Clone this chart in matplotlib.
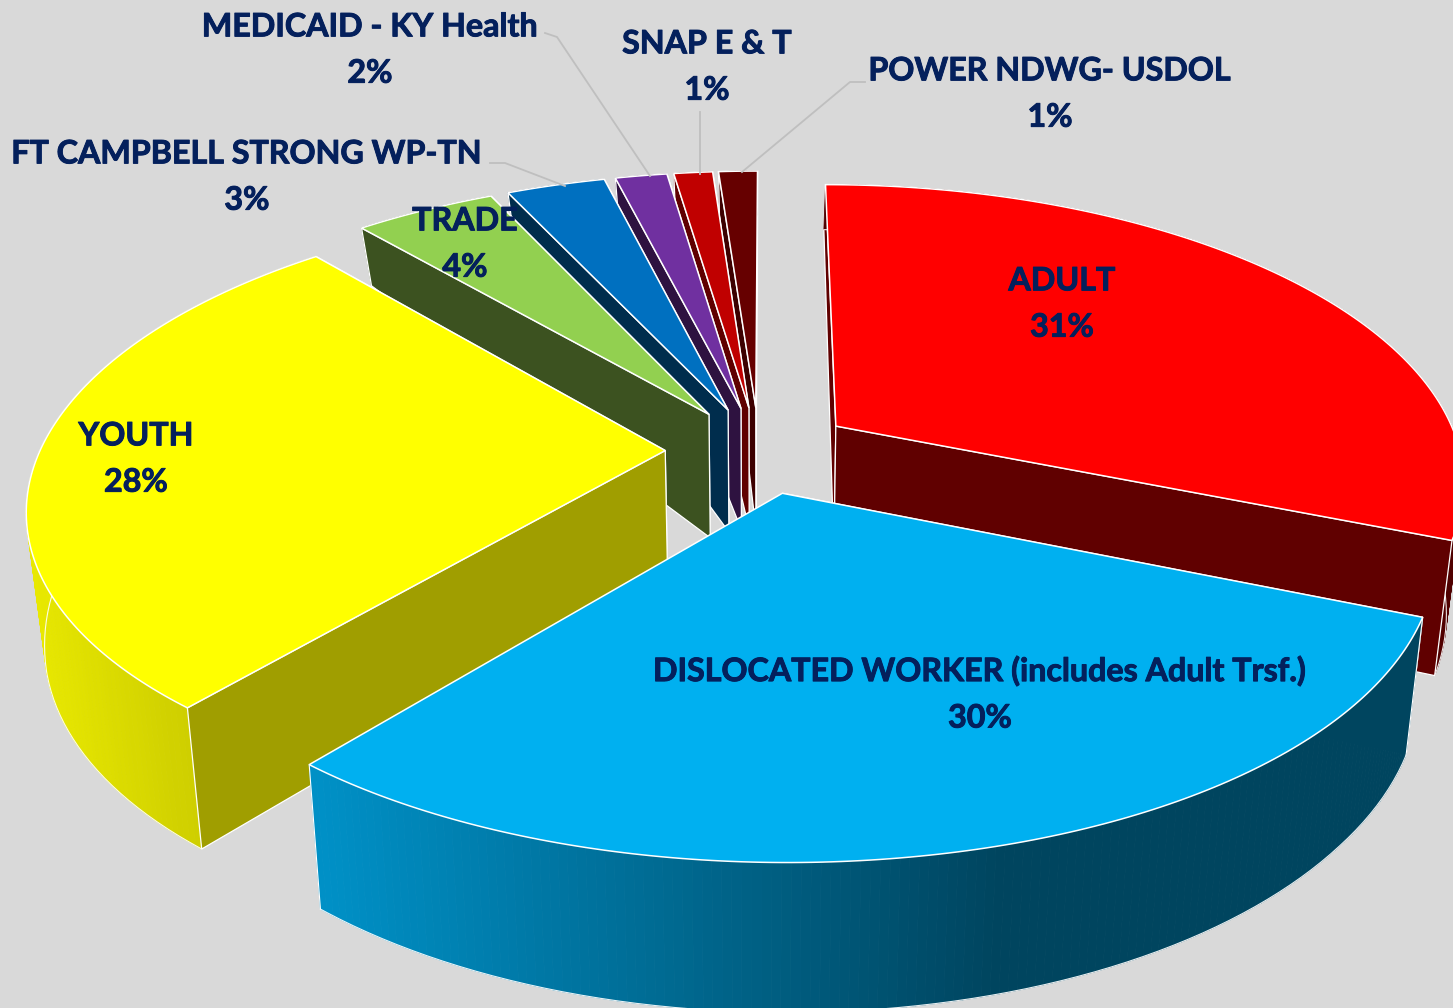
import numpy as np
import matplotlib
matplotlib.use("Agg")
import matplotlib.pyplot as plt
import matplotlib.patheffects as pe
from matplotlib.collections import PolyCollection

categories = ["ADULT", "DISLOCATED WORKER (includes Adult Trsf.)", "YOUTH", "TRADE",
              "FT CAMPBELL STRONG WP-TN", "MEDICAID - KY Health", "SNAP E & T", "POWER NDWG- USDOL"]
values = [31.2, 29.8, 27.6, 4.35, 3.05, 1.6, 1.2, 1.2]
top_colors = ["#FF0000", "#00B0F0", "#FFFF00", "#92D050", "#0070C0", "#7030A0", "#C00000", "#660000"]
side_colors = ["#600000", "#004560", "#A09E00", "#3C5220", "#002D4D", "#2E1240", "#600000", "#3D0000"]
label_pos = [(1062, 304), (980, 694), (136, 459), (465, 244), (247, 177), (370, 50), (707, 67), (1050, 94)]

BG = "#D9D9D9"
TXT = "#04205C"
CX, CY = 759.0, 450.0
F, G, AX, AY, B = 625.0, 290.0, 0.18, 0.17, 1.5
EXPLODE = 0.15

def project(X, Y):
    sx = 1.0 / (1.0 + AX * Y)
    sy = 1.0 / (1.0 + AY * Y)
    return CX + (F * X + B * np.maximum(Y, 0)) * sx, CY - G * Y * sy

def drop(x, y):
    d = np.interp(y, [186, 226, 416, 537, 705, 862], [45, 57, 124, 135, 141, 150])
    return x - (x - CX) * 0.025, y + d

def lerp_color(c0, c1, t):
    a = np.array(matplotlib.colors.to_rgb(c0))
    b = np.array(matplotlib.colors.to_rgb(c1))
    return tuple(a + (b - a) * t)

def wall_color(i, xm):
    if i == 1:
        t = np.clip((xm - 320) / (1000 - 320), 0, 1)
        return lerp_color("#0090C6", "#00455F", t)
    if i == 2:
        t = np.clip((xm - 30) / (200 - 30), 0, 1)
        return lerp_color("#E8E800", "#CCCC00", t)
    if i == 0:
        return "#500000"
    return side_colors[i]

fig = plt.figure(figsize=(14.53, 10.08), dpi=100, facecolor=BG)
ax = fig.add_axes([0, 0, 1, 1], facecolor=BG)
ax.set_xlim(0, 1453)
ax.set_ylim(1008, 0)
ax.axis("off")

fr = np.array(values, float) / sum(values)
edges = np.concatenate([[0], np.cumsum(fr)]) * 2 * np.pi
order = [7, 6, 5, 4, 3, 0, 2, 1]

for z, i in enumerate(order):
    t0, t1 = edges[i], edges[i + 1]
    tm = (t0 + t1) / 2
    ex, ey = EXPLODE * np.sin(tm), EXPLODE * np.cos(tm)
    th = np.linspace(t0, t1, max(8, int((t1 - t0) * 80)))
    ax_x, ax_y = project(ex + np.sin(th), ey + np.cos(th))
    apex = project(ex, ey)
    bx, by = drop(ax_x, ax_y)
    abx, aby = drop(*apex)
    base = z * 10 + 1
    far, near = (0, -1) if ax_y[0] < ax_y[-1] else (-1, 0)
    # far radial wall, then outer wall, then near radial wall
    poly = [apex, (ax_x[far], ax_y[far]), (bx[far], by[far]), (abx, aby)]
    ax.fill(*zip(*poly), facecolor=side_colors[i], edgecolor="white", linewidth=0.9, zorder=base)
    quads, cols = [], []
    for k in range(len(th) - 1):
        quads.append([(ax_x[k], ax_y[k]), (ax_x[k + 1], ax_y[k + 1]), (bx[k + 1], by[k + 1]), (bx[k], by[k])])
        cols.append(wall_color(i, (ax_x[k] + ax_x[k + 1]) / 2))
    ax.add_collection(PolyCollection(quads, facecolors=cols, edgecolors=cols, linewidths=0.6, zorder=base + 1))
    ax.plot(bx, by, color="white", lw=0.8, zorder=base + 1.5, alpha=0.9)
    poly = [apex, (ax_x[near], ax_y[near]), (bx[near], by[near]), (abx, aby)]
    if i != 1:
        ax.fill(*zip(*poly), facecolor=side_colors[i], edgecolor="white", linewidth=0.9, zorder=base + 2)
    else:
        for kk in (0, -1):
            ax.plot([ax_x[kk], bx[kk]], [ax_y[kk], by[kk]], color="white", lw=0.8, zorder=base + 2)
    # top face
    px = np.concatenate([[apex[0]], ax_x])
    py = np.concatenate([[apex[1]], ax_y])
    ax.fill(px, py, facecolor=top_colors[i], edgecolor="white", linewidth=1.1, zorder=base + 3, joinstyle="miter")

leaders = [[(490, 163), (505, 163), (565, 186)],
           [(545, 33), (557, 37), (650, 176)],
           [(700, 112), (700, 174)],
           [(865, 82), (850, 82), (742, 172)]]
for pts in leaders:
    ax.plot(*zip(*pts), color="#BFBFBF", lw=1.3, zorder=200)

for name, v, (x, y) in zip(categories, values, label_pos):
    ax.text(x, y, f"{name}\n{v:.0f}%", ha="center", va="center", color=TXT, fontsize=23.2,
            fontfamily="Lato", fontweight="bold", linespacing=1.72, zorder=300,
            path_effects=[pe.withStroke(linewidth=0.7, foreground=TXT)])

fig.savefig("out.png", dpi=100, facecolor=BG)
